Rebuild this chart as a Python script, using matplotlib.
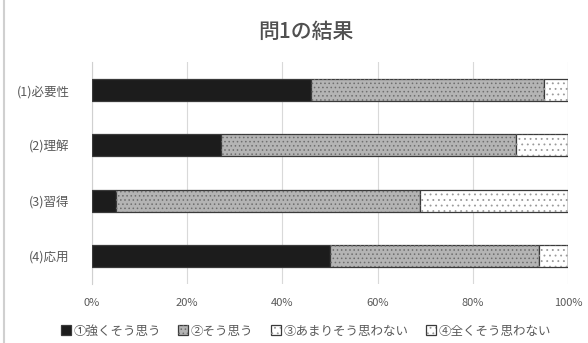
import matplotlib
matplotlib.use("Agg")
import matplotlib.pyplot as plt
import numpy as np

plt.rcParams['font.family'] = ['Noto Sans CJK JP', 'DejaVu Sans']
plt.rcParams['hatch.linewidth'] = 0.6

# 問1 の回答割合 (%)
categories = ["(1)必要性", "(2)理解", "(3)習得", "(4)応用"]
series_names = ["①強くそう思う", "②そう思う", "③あまりそう思わない", "④全くそう思わない"]
strongly_agree = [46, 27, 5, 50]
agree = [49, 62, 64, 44]
disagree = [5, 11, 31, 6]
strongly_disagree = [0, 0, 0, 0]
x_ticks = [0, 20, 40, 60, 80, 100]
x_tick_labels = ["0%", "20%", "40%", "60%", "80%", "100%"]

series = [strongly_agree, agree, disagree, strongly_disagree]
faces = ["#1c1c1c", "#b4b4b4", "#ffffff", "#ffffff"]
hatches = [None, "....", "...", "..."]
hatch_colors = [None, "#6e6e6e", "#9a9a9a", "#9a9a9a"]

fig = plt.figure(figsize=(5.88, 3.43), dpi=100)
ax = fig.add_axes([0.1565, 0.173, 0.8095, 0.645])

y = np.arange(len(categories))
left = np.zeros(len(categories))
handles = []
for vals, name, fc, h, hc in zip(series, series_names, faces, hatches, hatch_colors):
    vals = np.array(vals, dtype=float)
    base = ax.barh(y, vals, left=left, height=0.4, color=fc,
                   edgecolor="#3a3a3a", linewidth=0.9, zorder=3)
    if h is not None:
        over = ax.barh(y, vals, left=left, height=0.4, color="none",
                       edgecolor=hc, hatch=h, linewidth=0, zorder=4)
        handles.append((base, over))
    else:
        handles.append(base)
    left += vals

ax.set_xlim(0, 100)
ax.set_ylim(3.5, -0.5)
ax.set_yticks(y)
ax.set_yticklabels(categories, fontsize=9, color="#595959")
ax.set_xticks(x_ticks)
ax.set_xticklabels(x_tick_labels, fontsize=8, color="#595959")
ax.tick_params(axis="y", length=0, pad=16)
ax.tick_params(axis="x", length=0, pad=10)
ax.xaxis.grid(True, color="#d9d9d9", linewidth=0.8, zorder=0)
for s in ["top", "right", "bottom"]:
    ax.spines[s].set_visible(False)
ax.spines["left"].set_color("#d0d0d0")

fig.suptitle("問1の結果", x=0.52, y=0.94, fontsize=15, color="#505050",
             fontweight="medium")

fig.legend(handles, series_names, loc="center", bbox_to_anchor=(0.52, 0.035),
           ncol=4, frameon=False, fontsize=9, labelcolor="#595959",
           handlelength=0.8, handleheight=0.8, handletextpad=0.2,
           columnspacing=1.4)

# outer chart border
fig.add_artist(plt.Line2D([0.006, 0.006], [0.0, 1.0], color="#d0d0d0",
                          linewidth=1.5, transform=fig.transFigure))

fig.savefig("out.png", dpi=100, facecolor="white")
